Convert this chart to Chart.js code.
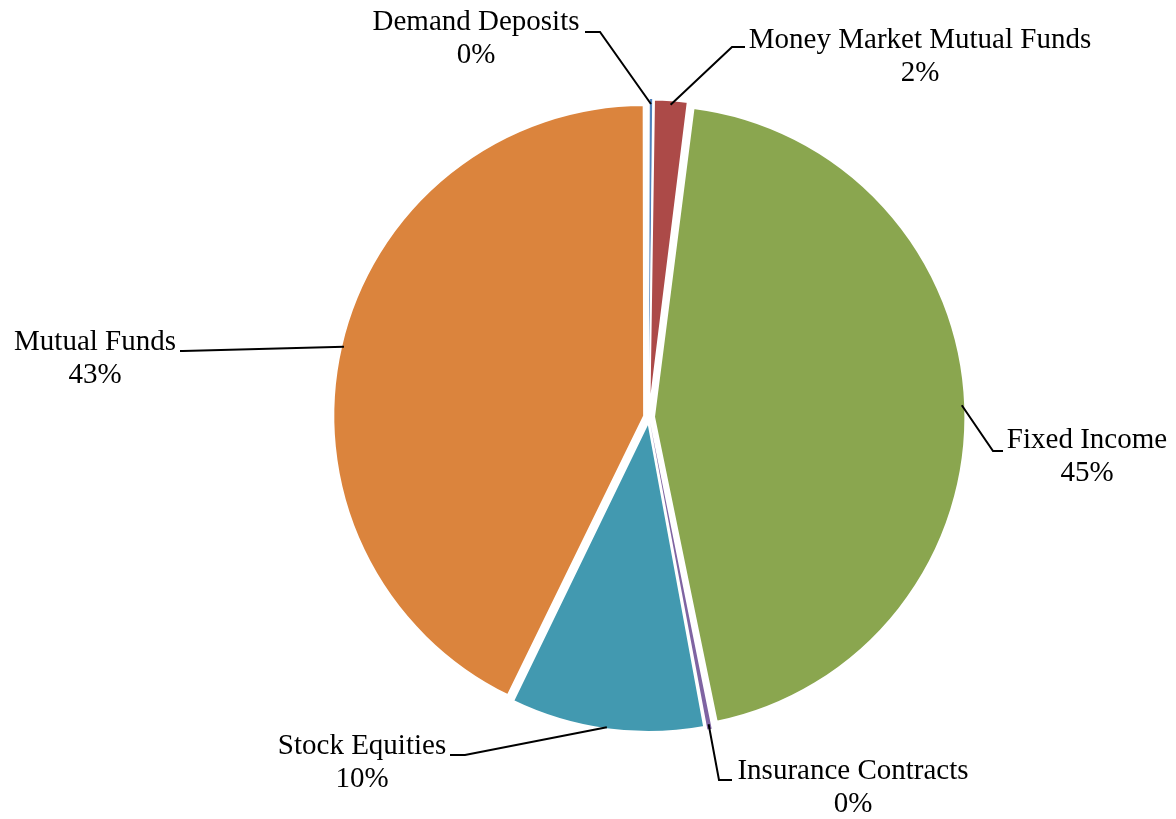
<!DOCTYPE html>
<html>
<head>
<meta charset="utf-8">
<script src="https://cdn.jsdelivr.net/npm/chart.js@4"></script>
<style>
  html, body { margin: 0; padding: 0; background: #ffffff; }
  #wrap { width: 1176px; height: 819px; }
</style>
</head>
<body>
<div id="wrap"><canvas id="allocationPie"></canvas></div>
<script>
// slices, clockwise from 12 o'clock
const categories = ["Demand Deposits", "Money Market Mutual Funds", "Fixed Income",
                    "Insurance Contracts", "Stock Equities", "Mutual Funds"];
const shares = [0.2, 1.8, 44.8, 0.3, 10.1, 42.8];
const sliceColors = ['#4F81BD', '#AC4A48', '#8AA64F', '#7F64A2', '#4299B0', '#DB843D'];

// where each label sits: elbow of the leader line, end of the short horizontal, text centre
const labelLayout = [
  {elbow: [600, 32],  end: [585, 32],  text: [476, 22]},
  {elbow: [732, 47],  end: [745, 47],  text: [920, 40]},
  {elbow: [993, 451], end: [1003, 451], text: [1087, 440]},
  {elbow: [719, 780], end: [732, 780], text: [853, 771]},
  {elbow: [465, 755], end: [450, 755], text: [362, 746]},
  {elbow: [183, 351], end: [180, 351], text: [95, 342]},
];

const leaderLabels = {
  id: 'leaderLabels',
  afterDraw(chart) {
    const ctx = chart.ctx;
    const meta = chart.getDatasetMeta(0);
    const total = shares.reduce((a, b) => a + b, 0);
    ctx.save();
    ctx.font = '29px "Liberation Serif", "Times New Roman", serif';
    ctx.fillStyle = '#000000';
    ctx.strokeStyle = '#000000';
    ctx.lineWidth = 2;
    ctx.textAlign = 'center';
    ctx.textBaseline = 'middle';
    meta.data.forEach((arc, i) => {
      const p = arc.getProps(['x', 'y', 'startAngle', 'endAngle', 'outerRadius']);
      const mid = (p.startAngle + p.endAngle) / 2;
      // chart.js shifts an arc by a quarter of its offset
      const r = p.outerRadius + arc.options.offset / 4;
      const ax = p.x + Math.cos(mid) * r;
      const ay = p.y + Math.sin(mid) * r;
      const lay = labelLayout[i];
      ctx.beginPath();
      ctx.moveTo(ax, ay);
      ctx.lineTo(lay.elbow[0], lay.elbow[1]);
      ctx.lineTo(lay.end[0], lay.end[1]);
      ctx.stroke();
      ctx.fillText(categories[i], lay.text[0], lay.text[1]);
      ctx.fillText(Math.round(shares[i] / total * 100) + '%', lay.text[0], lay.text[1] + 33);
    });
    ctx.restore();
  }
};

const pieConfig = {
  type: 'pie',
  data: {
    labels: categories,
    datasets: [{
      data: shares,
      backgroundColor: sliceColors,
      borderColor: '#ffffff',
      // the two hair-thin slices would vanish under a white border
      borderWidth: [0, 2, 2, 0, 2, 2],
      offset: 20,
    }]
  },
  options: {
    responsive: true,
    maintainAspectRatio: false,
    animation: false,
    radius: 308,
    layout: { padding: { left: 122, top: 15, right: 0, bottom: 0 } },
    plugins: {
      legend: { display: false },
      tooltip: { enabled: false },
    },
  },
  plugins: [leaderLabels],
};

const allocationPie = new Chart(document.getElementById('allocationPie'), pieConfig);
</script>
</body>
</html>
